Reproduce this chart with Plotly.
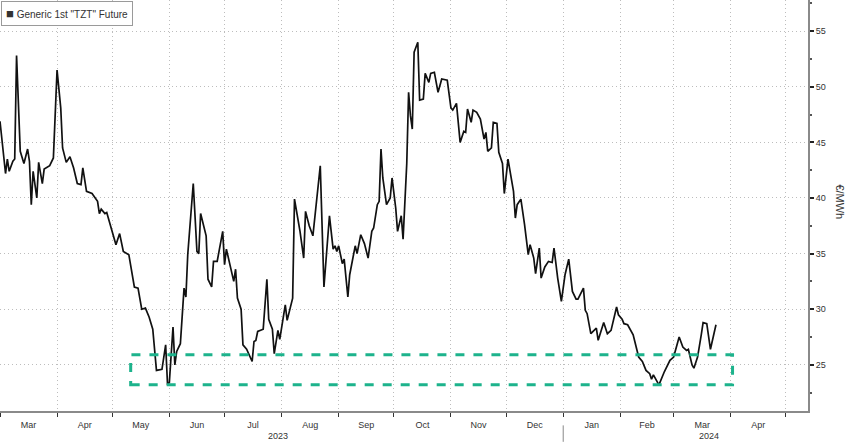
import plotly.graph_objects as go

dates = [
    "2023-03-01","2023-03-03","2023-03-04","2023-03-05","2023-03-06","2023-03-08","2023-03-09","2023-03-10",
    "2023-03-11","2023-03-12","2023-03-14","2023-03-16","2023-03-17","2023-03-18","2023-03-19","2023-03-21",
    "2023-03-22","2023-03-24","2023-03-25","2023-03-28","2023-03-30","2023-04-01","2023-04-03","2023-04-04",
    "2023-04-06","2023-04-08","2023-04-10","2023-04-12","2023-04-14","2023-04-15","2023-04-17","2023-04-20",
    "2023-04-23","2023-04-24","2023-04-25","2023-04-27","2023-04-28","2023-04-30","2023-05-03","2023-05-05",
    "2023-05-07","2023-05-10","2023-05-12","2023-05-13","2023-05-15","2023-05-17","2023-05-19","2023-05-21",
    "2023-05-23","2023-05-24","2023-05-25","2023-05-28","2023-05-30","2023-05-31","2023-06-01","2023-06-03",
    "2023-06-04","2023-06-05","2023-06-07","2023-06-09","2023-06-10","2023-06-11","2023-06-14","2023-06-16",
    "2023-06-17","2023-06-18","2023-06-21","2023-06-22","2023-06-24","2023-06-25","2023-06-27","2023-06-30",
    "2023-07-01","2023-07-02","2023-07-04","2023-07-06","2023-07-07","2023-07-08","2023-07-10","2023-07-11",
    "2023-07-13","2023-07-16","2023-07-17","2023-07-18","2023-07-19","2023-07-22","2023-07-24","2023-07-25",
    "2023-07-27","2023-07-28","2023-07-30","2023-07-31","2023-08-03","2023-08-04","2023-08-07","2023-08-08",
    "2023-08-11","2023-08-13","2023-08-14","2023-08-16","2023-08-18","2023-08-22","2023-08-24","2023-08-27",
    "2023-08-29","2023-08-30","2023-08-31","2023-09-01","2023-09-03","2023-09-04","2023-09-06","2023-09-07",
    "2023-09-10","2023-09-11","2023-09-13","2023-09-15","2023-09-17","2023-09-19","2023-09-20","2023-09-22",
    "2023-09-23","2023-09-24","2023-09-25","2023-09-27","2023-09-29","2023-09-30","2023-10-02","2023-10-03",
    "2023-10-05","2023-10-06","2023-10-08","2023-10-09","2023-10-10","2023-10-11","2023-10-12","2023-10-14",
    "2023-10-15","2023-10-17","2023-10-18","2023-10-20","2023-10-21","2023-10-23","2023-10-25","2023-10-27",
    "2023-10-30","2023-11-01","2023-11-02","2023-11-04","2023-11-06","2023-11-08","2023-11-09","2023-11-10",
    "2023-11-12","2023-11-13","2023-11-15","2023-11-17","2023-11-19","2023-11-20","2023-11-21","2023-11-23",
    "2023-11-24","2023-11-26","2023-11-27","2023-11-29","2023-11-30","2023-12-02","2023-12-05","2023-12-06",
    "2023-12-07","2023-12-09","2023-12-11","2023-12-13","2023-12-14","2023-12-16","2023-12-17","2023-12-19",
    "2023-12-20","2023-12-22","2023-12-24","2023-12-26","2023-12-27","2023-12-29","2023-12-31","2024-01-02",
    "2024-01-04","2024-01-06","2024-01-08","2024-01-09","2024-01-12","2024-01-13","2024-01-14","2024-01-16",
    "2024-01-19","2024-01-20","2024-01-23","2024-01-25","2024-01-27","2024-01-28","2024-01-30","2024-01-31",
    "2024-02-02","2024-02-03","2024-02-05","2024-02-08","2024-02-10","2024-02-11","2024-02-13","2024-02-15",
    "2024-02-17","2024-02-18","2024-02-19","2024-02-21","2024-02-22","2024-02-25","2024-02-27","2024-02-28",
    "2024-03-01","2024-03-04","2024-03-06","2024-03-08","2024-03-09","2024-03-11","2024-03-12","2024-03-14",
    "2024-03-16","2024-03-17","2024-03-19","2024-03-21","2024-03-24",
]
prices = [
    46.9,44.0,42.2,43.5,42.4,43.3,43.5,52.8,
    48.1,44.2,43.1,44.4,43.3,39.4,42.4,40.0,
    43.2,41.3,42.6,42.9,43.6,51.5,48.1,44.5,
    43.2,43.7,42.7,41.3,41.2,42.7,40.6,40.4,
    39.7,38.6,39.0,38.6,38.7,37.6,35.8,36.8,
    35.2,34.9,32.8,32.0,31.9,30.0,30.1,29.3,
    28.2,26.2,24.5,24.6,26.8,23.3,23.4,28.4,
    25.0,26.2,26.9,31.9,31.1,34.9,41.3,35.2,
    35.0,38.6,36.6,32.7,32.0,34.3,34.3,37.0,
    34.0,35.4,34.0,32.5,33.6,31.0,30.0,26.8,
    26.4,25.3,27.1,27.2,28.0,28.2,32.7,29.1,
    28.2,26.0,28.1,27.3,30.4,29.0,31.0,39.9,
    37.0,34.6,38.8,37.5,36.6,42.9,32.0,38.4,
    35.4,35.7,35.2,35.7,34.1,34.5,31.1,33.1,
    35.7,35.0,36.7,35.9,34.6,37.0,37.3,39.4,
    39.7,44.4,41.8,39.4,40.0,41.8,39.1,37.0,
    38.4,36.3,43.1,49.5,47.4,46.2,53.1,54.0,
    48.8,48.9,51.2,50.4,51.2,51.3,49.5,50.7,
    50.6,48.1,47.9,48.5,45.0,46.0,45.9,48.0,
    46.8,47.9,47.7,47.1,45.3,45.9,44.2,44.5,
    46.8,46.7,44.1,43.1,40.4,43.5,40.6,38.2,
    39.4,39.9,37.6,34.9,35.8,34.6,33.2,35.5,
    32.8,33.8,34.3,34.2,35.5,32.8,30.7,33.1,
    34.5,31.6,30.9,30.9,31.9,29.9,29.6,27.8,
    28.3,27.2,28.8,27.8,28.1,28.8,30.2,29.5,
    29.1,28.7,28.6,27.7,26.2,25.7,25.3,24.5,
    24.2,23.7,24.1,23.5,23.2,24.4,25.1,25.4,
    25.7,27.5,26.6,26.3,26.4,25.0,24.7,25.7,
    27.7,28.8,28.7,26.4,28.6,
]

legend_label = 'Generic 1st "TZT" Future'
y_title = "€/MWh"
year_labels = ["2023", "2024"]
year_label_dates = ["2023-07-30", "2024-03-20"]
year_divider_date = "2024-01-01"
box_dates = ["2023-05-11", "2024-04-02"]
box_values = [23.2, 25.9]
x_range = ["2023-03-01", "2024-05-13"]
y_range = [20.85, 57.8]

teal = "#1db38c"
font_main = "Liberation Sans"
grid_col = "#bdbdbd"

fig = go.Figure()
fig.add_trace(go.Scatter(
    x=dates, y=prices, mode="lines",
    line=dict(color="#111111", width=1.7),
    showlegend=False, hoverinfo="skip",
))

fig.add_shape(
    type="rect", xref="x", yref="y",
    x0=box_dates[0], x1=box_dates[1], y0=box_values[0], y1=box_values[1],
    line=dict(color=teal, width=3, dash="dash"),
    fillcolor="rgba(0,0,0,0)",
)

fig.add_shape(
    type="line", xref="x", yref="paper",
    x0=year_divider_date, x1=year_divider_date, y0=-0.035, y1=-0.075,
    line=dict(color="#888888", width=1),
)

for lbl, d in zip(year_labels, year_label_dates):
    fig.add_annotation(
        x=d, y=-0.045, xref="x", yref="paper", text=lbl, showarrow=False,
        yanchor="top", font=dict(family=font_main, size=9, color="#333333"),
    )

fig.add_annotation(
    x=0.001, y=0.997, xref="paper", yref="paper", xanchor="left", yanchor="top",
    text="<span style='font-size:13px'>■</span> " + legend_label,
    showarrow=False, bgcolor="white", bordercolor="#9a9a9a", borderwidth=1,
    borderpad=4, font=dict(family=font_main, size=10, color="#333333"),
)

fig.add_annotation(
    x=1.0, y=0.51, xref="paper", yref="paper", xanchor="left", yanchor="middle",
    xshift=24, text=y_title, textangle=90, showarrow=False,
    font=dict(family=font_main, size=11, color="#333333"),
)

fig.update_layout(
    width=848, height=442,
    margin=dict(l=0, r=40, t=0, b=31),
    paper_bgcolor="white", plot_bgcolor="white",
    showlegend=False,
    xaxis=dict(
        range=x_range, type="date",
        tick0="2023-03-01", dtick="M1", tickformat="%b",
        ticklabelmode="period",
        ticks="outside", ticklen=4, tickcolor="#333333",
        showgrid=True, gridcolor=grid_col, griddash="1px,3px", gridwidth=1,
        showline=True, linecolor="#8a8a8a", linewidth=2,
        tickfont=dict(family=font_main, size=9, color="#333333"),
        zeroline=False,
    ),
    yaxis=dict(
        range=y_range, side="right",
        tick0=0, dtick=5,
        ticks="outside", ticklen=4, tickwidth=2, tickcolor="#222222",
        minor=dict(dtick=2.5, ticks="outside", ticklen=2, tickcolor="#555555", showgrid=False),
        showgrid=True, gridcolor=grid_col, griddash="1px,3px", gridwidth=1,
        showline=True, linecolor="#8a8a8a", linewidth=2,
        tickfont=dict(family=font_main, size=9, color="#333333"),
        zeroline=False,
    ),
)

fig.write_html(
    "out.html",
    config={"displayModeBar": False},
    post_script="document.body.style.margin='0px';document.body.style.padding='0px';",
)
